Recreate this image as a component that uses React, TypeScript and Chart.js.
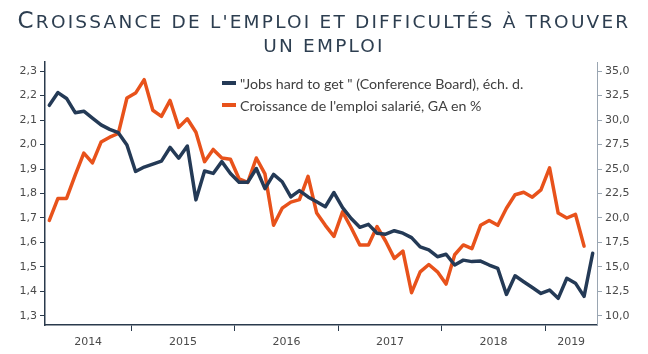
import React, { useEffect, useRef } from "react";
import { Chart, registerables } from "chart.js";

Chart.register(...registerables);

const months: string[] = [
  "2014-03", "2014-04", "2014-05", "2014-06", "2014-07", "2014-08", "2014-09", "2014-10", "2014-11", "2014-12",
  "2015-01", "2015-02", "2015-03", "2015-04", "2015-05", "2015-06", "2015-07", "2015-08", "2015-09", "2015-10", "2015-11", "2015-12",
  "2016-01", "2016-02", "2016-03", "2016-04", "2016-05", "2016-06", "2016-07", "2016-08", "2016-09", "2016-10", "2016-11", "2016-12",
  "2017-01", "2017-02", "2017-03", "2017-04", "2017-05", "2017-06", "2017-07", "2017-08", "2017-09", "2017-10", "2017-11", "2017-12",
  "2018-01", "2018-02", "2018-03", "2018-04", "2018-05", "2018-06", "2018-07", "2018-08", "2018-09", "2018-10", "2018-11", "2018-12",
  "2019-01", "2019-02", "2019-03", "2019-04", "2019-05", "2019-06",
];

const yearLabels: string[] = ["2014", "2015", "2016", "2017", "2018", "2019"];

// "Jobs hard to get" (Conference Board), right scale
const jobsHardToGet: number[] = [
  31.5, 32.8, 32.2, 30.75, 30.9, 30.2, 29.5, 29.05, 28.7, 27.45,
  24.75, 25.2, 25.5, 25.8, 27.2, 26.1, 27.35, 21.85, 24.8, 24.55, 25.75, 24.55,
  23.65, 23.65, 25.05, 23.0, 24.45, 23.7, 22.15, 22.8, 22.15, 21.65, 21.15, 22.6,
  21.05, 19.95, 19.05, 19.35, 18.45, 18.35, 18.7, 18.45, 18.0, 17.05, 16.75, 16.05,
  16.3, 15.2, 15.7, 15.55, 15.6, 15.2, 14.85, 12.2, 14.1, 13.5, 12.9, 12.3,
  12.65, 11.8, 13.85, 13.35, 12.0, 16.4,
];

// Croissance de l'emploi salarié, GA en %, left scale
const employmentGrowth: number[] = [
  1.69, 1.78, 1.78, 1.875, 1.965, 1.925, 2.01, 2.03, 2.045, 2.19,
  2.21, 2.265, 2.14, 2.115, 2.18, 2.07, 2.105, 2.05, 1.93, 1.98, 1.945, 1.94,
  1.86, 1.845, 1.945, 1.88, 1.67, 1.74, 1.765, 1.775, 1.87, 1.72, 1.67, 1.625,
  1.725, 1.66, 1.59, 1.59, 1.665, 1.605, 1.535, 1.565, 1.395, 1.48, 1.51, 1.48,
  1.43, 1.55, 1.59, 1.575, 1.67, 1.69, 1.67, 1.74, 1.795, 1.805, 1.785, 1.815,
  1.905, 1.72, 1.70, 1.715, 1.585,
];

const leftTicks: number[] = [1.3, 1.4, 1.5, 1.6, 1.7, 1.8, 1.9, 2.0, 2.1, 2.2, 2.3];
const rightTicks: number[] = [10, 12.5, 15, 17.5, 20, 22.5, 25, 27.5, 30, 32.5, 35];

const seriesNames: string[] = [
  "\"Jobs hard to get \" (Conference Board), éch. d.",
  "Croissance de l'emploi salarié, GA en %",
];

const NAVY = "#243a56";
const ORANGE = "#e8521b";
const AXIS_DARK = "#2a3a4c";
const AXIS_GREY = "#9aa6b2";
const TEXT = "#4a4a4a";

const yearLabelPlugin = {
  id: "yearLabels",
  afterDraw(chart: any) {
    const x = chart.scales.x;
    const ctx = chart.ctx;
    ctx.save();
    ctx.font = "11px 'DejaVu Sans'";
    ctx.fillStyle = TEXT;
    ctx.textAlign = "center";
    ctx.textBaseline = "middle";
    yearLabels.forEach((yr) => {
      const idx = months.map((m, i) => (m.startsWith(yr) ? i : -1)).filter((i) => i >= 0);
      if (!idx.length) return;
      const a = x.getPixelForValue(idx[0]);
      const b = x.getPixelForValue(idx[idx.length - 1]);
      ctx.fillText(yr, (a + b) / 2, 342);
    });
    ctx.restore();
  },
};

export default function App() {
  const canvasRef = useRef<HTMLCanvasElement | null>(null);

  useEffect(() => {
    if (!canvasRef.current) return;
    const boundaries = months
      .map((m, i) => (i > 0 && m.endsWith("-01") ? i : -1))
      .filter((i) => i >= 0);
    const fmt = (v: number) => Number(v).toFixed(1).replace(".", ",");
    const chart = new Chart(canvasRef.current, {
      type: "line",
      data: {
        labels: months,
        datasets: [
          {
            label: seriesNames[0],
            data: jobsHardToGet,
            yAxisID: "y1",
            borderColor: NAVY,
            backgroundColor: NAVY,
            borderWidth: 3.5,
            pointRadius: 0,
            tension: 0,
            borderJoinStyle: "round",
            borderCapStyle: "round",
          },
          {
            label: seriesNames[1],
            data: employmentGrowth,
            yAxisID: "y",
            borderColor: ORANGE,
            backgroundColor: ORANGE,
            borderWidth: 3.5,
            pointRadius: 0,
            tension: 0,
            borderJoinStyle: "round",
            borderCapStyle: "round",
          },
        ],
      },
      options: {
        animation: false,
        responsive: false,
        maintainAspectRatio: false,
        layout: { padding: { top: 62, left: 0, right: 0, bottom: 0 } },
        plugins: {
          legend: { display: false },
          title: { display: false },
          tooltip: { enabled: false },
        },
        scales: {
          x: {
            type: "category",
            offset: true,
            grid: {
              offset: true,
              drawOnChartArea: false,
              drawTicks: true,
              tickLength: 6,
              lineWidth: 1,
              color: (c: any) => (boundaries.includes(c.index) ? AXIS_DARK : "rgba(0,0,0,0)"),
            },
            border: { color: AXIS_DARK, width: 1.5 },
            ticks: { autoSkip: false, maxRotation: 0, callback: () => "" },
            afterFit: (s: any) => {
              s.height = 29;
            },
          },
          y: {
            type: "linear",
            position: "left",
            min: 1.263,
            max: 2.337,
            afterBuildTicks: (s: any) => {
              s.ticks = leftTicks.map((v) => ({ value: v }));
            },
            ticks: {
              callback: (v: any) => fmt(v),
              color: TEXT,
              font: { family: "'DejaVu Sans'", size: 11 },
              padding: 3,
            },
            grid: { drawOnChartArea: false, tickLength: 5, color: AXIS_DARK },
            border: { color: AXIS_DARK, width: 1.5 },
            afterFit: (s: any) => {
              s.width = 45;
            },
          },
          y1: {
            type: "linear",
            position: "right",
            min: 9.08,
            max: 35.92,
            afterBuildTicks: (s: any) => {
              s.ticks = rightTicks.map((v) => ({ value: v }));
            },
            ticks: {
              callback: (v: any) => fmt(v),
              color: TEXT,
              font: { family: "'DejaVu Sans'", size: 11 },
              padding: 3,
            },
            grid: { drawOnChartArea: false, tickLength: 5, color: AXIS_GREY },
            border: { color: AXIS_GREY, width: 1 },
            afterFit: (s: any) => {
              s.width = 51;
            },
          },
        },
      },
      plugins: [yearLabelPlugin],
    });
    return () => chart.destroy();
  }, []);

  const legendRow = (color: string, text: string, top: number) => (
    <div
      style={{
        position: "absolute",
        left: 222,
        top,
        height: 22,
        display: "flex",
        alignItems: "center",
        whiteSpace: "nowrap",
      }}
    >
      <span style={{ display: "inline-block", width: 14, height: 4, background: color, marginRight: 4 }} />
      <span style={{ fontFamily: "Lato, 'Open Sans', sans-serif", fontSize: 14.2, color: "#404040" }}>{text}</span>
    </div>
  );

  return (
    <div
      style={{
        position: "fixed",
        left: 0,
        top: 0,
        width: 648,
        height: 354,
        background: "#ffffff",
        overflow: "hidden",
      }}
    >
      <canvas ref={canvasRef} width={648} height={354} style={{ position: "absolute", left: 0, top: 0 }} />
      <div
        style={{
          position: "absolute",
          left: 0,
          top: 8,
          width: 648,
          textAlign: "center",
          fontFamily: "'DejaVu Sans', sans-serif",
          textTransform: "uppercase",
          fontSize: 18.5,
          lineHeight: "24px",
          color: "#2d3e50",
          letterSpacing: 2.2,
          whiteSpace: "nowrap",
        }}
      >
        <span style={{ fontSize: 23 }}>C</span>roissance de l'emploi et difficultés à trouver
        <br />
        un emploi
      </div>
      {legendRow(NAVY, seriesNames[0], 72)}
      {legendRow(ORANGE, seriesNames[1], 94)}
    </div>
  );
}
